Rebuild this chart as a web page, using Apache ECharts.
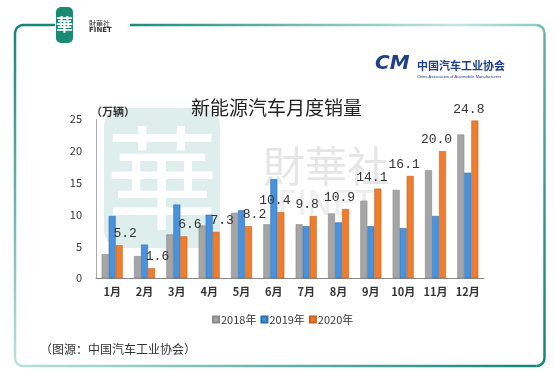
<!DOCTYPE html>
<html>
<head>
<meta charset="utf-8">
<script src="https://cdn.jsdelivr.net/npm/echarts@6/dist/echarts.min.js"></script>
<style>
html,body{margin:0;padding:0;background:#fff;}
#c{width:554px;height:372px;}
</style>
</head>
<body>
<div id="c"></div>
<script>
var months = ['1月','2月','3月','4月','5月','6月','7月','8月','9月','10月','11月','12月'];
var seriesNames = ['2018年','2019年','2020年'];
var sales2018 = [3.8, 3.5, 6.9, 8.3, 10.3, 8.5, 8.5, 10.2, 12.2, 13.9, 17.0, 22.6];
var sales2019 = [9.8, 5.3, 11.6, 10.0, 10.7, 15.6, 8.2, 8.8, 8.2, 7.9, 9.8, 16.6];
var sales2020 = [5.2, 1.6, 6.6, 7.3, 8.2, 10.4, 9.8, 10.9, 14.1, 16.1, 20.0, 24.8];
var yTicks = [0, 5, 10, 15, 20, 25];

var CJK = '"Noto Sans CJK SC", "Noto Sans", sans-serif';
var chart = echarts.init(document.getElementById('c'), null, {renderer: 'canvas'});

function sideLine(x1, y1, x2, y2, stops, gx2, gy2) {
  return {
    type: 'line', silent: true, z: 100,
    shape: {x1: x1, y1: y1, x2: x2, y2: y2},
    style: {lineWidth: 2.5, lineCap: 'round',
      stroke: new echarts.graphic.LinearGradient(0, 0, gx2, gy2, stops, false)}
  };
}
function corner(cx, cy, a0, a1, color) {
  return {
    type: 'arc', silent: true, z: 100,
    shape: {cx: cx, cy: cy, r: 8, startAngle: a0, endAngle: a1, clockwise: true},
    style: {lineWidth: 2.5, stroke: color, fill: null}
  };
}
var L = 15, R = 544.5, T = 25, B = 366, r = 8;
var dark = '#15877a', light = '#b9e0db';

var graphics = [
  // watermark
  {type: 'rect', silent: true, z: -10, shape: {x: 104, y: 108, width: 116, height: 140, r: 18},
   style: {fill: '#deeeec'}},
  {type: 'text', silent: true, z: -9, x: 162, y: 178,
   style: {text: '華', fontSize: 112, fontFamily: CJK, fill: '#ffffff', align: 'center', verticalAlign: 'middle'}},
  {type: 'text', silent: true, z: -9, x: 326, y: 166,
   style: {text: '財華社', fontSize: 42, fontFamily: CJK, fill: '#e6e6e6', align: 'center', verticalAlign: 'middle'}},
  {type: 'text', silent: true, z: -9, x: 326, y: 206,
   style: {text: 'FINET', fontSize: 34, fontFamily: '"DejaVu Sans", sans-serif', fill: '#eeeeee', align: 'center', verticalAlign: 'middle'}},
  // frame
  sideLine(L + r, T, 54, T, [{offset: 0, color: dark}, {offset: 1, color: dark}], 1, 0),
  {type: 'line', silent: true, z: 100, shape: {x1: 130, y1: T, x2: R - r, y2: T},
   style: {lineWidth: 2.5, stroke: new echarts.graphic.LinearGradient(0, 0, 1, 0,
     [{offset: 0, color: '#1a8b7e'}, {offset: 0.8, color: '#c3e5e0'}, {offset: 1, color: '#8ccbc3'}])}},
  {type: 'line', silent: true, z: 100, shape: {x1: R, y1: T + r, x2: R, y2: B - r},
   style: {lineWidth: 2.5, stroke: new echarts.graphic.LinearGradient(0, 0, 0, 1,
     [{offset: 0, color: '#5db3a8'}, {offset: 1, color: '#10857a'}])}},
  {type: 'line', silent: true, z: 100, shape: {x1: L + r, y1: B, x2: R - r, y2: B},
   style: {lineWidth: 2.5, stroke: new echarts.graphic.LinearGradient(0, 0, 1, 0,
     [{offset: 0, color: light}, {offset: 1, color: '#10857a'}])}},
  {type: 'line', silent: true, z: 100, shape: {x1: L, y1: T + r, x2: L, y2: B - r},
   style: {lineWidth: 2.5, stroke: new echarts.graphic.LinearGradient(0, 0, 0, 1,
     [{offset: 0, color: dark}, {offset: 1, color: light}])}},
  corner(L + r, T + r, Math.PI, Math.PI * 1.5, dark),
  corner(R - r, T + r, Math.PI * 1.5, Math.PI * 2, '#6dbdb2'),
  corner(R - r, B - r, 0, Math.PI * 0.5, '#10857a'),
  corner(L + r, B - r, Math.PI * 0.5, Math.PI, light),
  // FINET logo
  {type: 'rect', silent: true, z: 101, shape: {x: 56, y: 7, width: 17, height: 36, r: 5},
   style: {fill: '#1b8a72'}},
  {type: 'text', silent: true, z: 102, x: 64.5, y: 25,
   style: {text: '華', fontSize: 17, fontFamily: CJK, fontWeight: 'bold', fill: '#ffffff', align: 'center', verticalAlign: 'middle'}},
  {type: 'text', silent: true, z: 101, x: 89, y: 23,
   style: {text: '財華社', fontSize: 7, fontFamily: CJK, fill: '#333333', align: 'left', verticalAlign: 'middle'}},
  {type: 'text', silent: true, z: 101, x: 89, y: 30.5,
   style: {text: 'FINET', fontSize: 7, fontWeight: 'bold', fontFamily: '"DejaVu Sans", sans-serif', fill: '#333333', align: 'left', verticalAlign: 'middle'}},
  // CAAM logo
  {type: 'text', silent: true, x: 375, y: 64,
   style: {text: 'CM', fontSize: 20, fontStyle: 'italic', fontWeight: 'bold', fontFamily: '"DejaVu Sans", sans-serif', fill: '#1f3f86', align: 'left', verticalAlign: 'middle'}},
  {type: 'text', silent: true, x: 417, y: 66,
   style: {text: '中国汽车工业协会', fontSize: 11, fontWeight: 'bold', fontFamily: CJK, fill: '#1f3f86', align: 'left', verticalAlign: 'middle'}},
  {type: 'text', silent: true, x: 417, y: 77,
   style: {text: 'China Association of Automobile Manufacturers', fontSize: 4, fontFamily: '"Liberation Sans", sans-serif', fill: '#1f3f86', align: 'left', verticalAlign: 'middle'}},
  // title & unit
  {type: 'text', silent: true, x: 276.5, y: 108,
   style: {text: '新能源汽车月度销量', fontSize: 19, fontFamily: CJK, fill: '#222222', align: 'center', verticalAlign: 'middle'}},
  {type: 'text', silent: true, x: 91, y: 111.5,
   style: {text: '（万辆）', fontSize: 11, fontWeight: 'bold', fontFamily: CJK, fill: '#333333', align: 'left', verticalAlign: 'middle'}},
  // source
  {type: 'text', silent: true, x: 40, y: 349,
   style: {text: '（图源：中国汽车工业协会）', fontSize: 12, fontFamily: CJK, fill: '#333333', align: 'left', verticalAlign: 'middle'}}
];

var colors = ['#a5a5a5', '#4a92db', '#ee7d2f'];
var borders = ['#8a8a8a', '#2e6fb3', '#c8601c'];

var option = {
  animation: false,
  color: colors,
  grid: {left: 96, right: 70, top: 119.3, bottom: 93.7, containLabel: false},
  legend: {
    data: seriesNames, left: 207, top: 309, itemWidth: 6, itemHeight: 6, itemGap: 4,
    icon: 'rect',
    textStyle: {fontSize: 11, color: '#333', fontFamily: CJK, padding: [0, 0, 0, -3]}
  },
  xAxis: {
    type: 'category', data: months,
    axisLine: {lineStyle: {color: '#888', width: 1}},
    axisTick: {show: false},
    axisLabel: {fontSize: 11, color: '#333', fontWeight: 'bold', fontFamily: CJK, margin: 8, interval: 0}
  },
  yAxis: {
    type: 'value', min: yTicks[0], max: yTicks[yTicks.length - 1], interval: yTicks[1] - yTicks[0],
    axisLine: {show: true, lineStyle: {color: '#aaa', width: 1}},
    axisTick: {show: false},
    splitLine: {show: false},
    axisLabel: {fontSize: 11, color: '#333', fontFamily: CJK, margin: 14}
  },
  graphic: graphics,
  series: [
    {name: seriesNames[0], type: 'bar', data: sales2018, barWidth: 7, barGap: '0%',
     itemStyle: {color: colors[0], borderColor: borders[0], borderWidth: 0.6}},
    {name: seriesNames[1], type: 'bar', data: sales2019, barWidth: 7, barGap: '0%',
     itemStyle: {color: colors[1], borderColor: borders[1], borderWidth: 0.6}},
    {name: seriesNames[2], type: 'bar', barWidth: 7, barGap: '0%',
     itemStyle: {color: colors[2], borderColor: borders[2], borderWidth: 0.6},
     data: sales2020.map(function (v, i) {
       return {value: v, label: {offset: [i < 5 ? 6 : -6, 0]}};
     }),
     label: {
       show: true, position: 'top', distance: 5,
       fontSize: 13, color: '#333', fontFamily: '"Liberation Mono", "DejaVu Sans Mono", monospace',
       formatter: function (p) { return p.value.toFixed(1); }
     }}
  ]
};
chart.setOption(option);
</script>
</body>
</html>
